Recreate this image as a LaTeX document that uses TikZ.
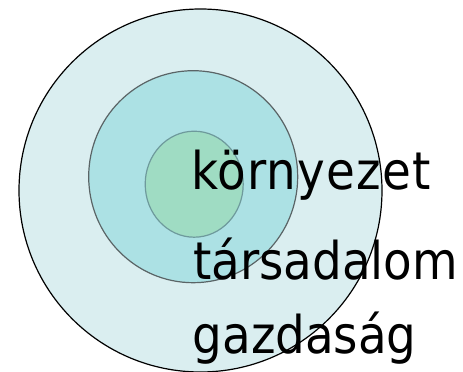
\documentclass[tikz,border=0pt]{standalone}
\usepackage{fontspec}
\setmainfont{DejaVu Sans Condensed}
\definecolor{outerfill}{HTML}{DAEEF0}
\definecolor{midfill}{HTML}{ACE1E4}
\definecolor{innerfill}{HTML}{9FDCC3}
\definecolor{midline}{HTML}{5A6466}
\definecolor{innerline}{HTML}{6E9A9C}
\tikzset{
  lbl/.style={anchor=base west, inner sep=0pt, font=\fontsize{52}{56}\selectfont, text=black},
}
\begin{document}
\begin{tikzpicture}[x=1pt,y=-1pt]
\useasboundingbox (0,0) rectangle (463,372);
\draw[fill=outerfill, draw=black, line width=1.2pt] (200.5,190.5) circle[radius=181.5] node (outer) {};
\draw[fill=midfill, draw=midline, line width=1.2pt] (193.2,176.7) ellipse[x radius=104.5, y radius=106] node (mid) {};
\draw[fill=innerfill, draw=innerline, line width=1.2pt] (194.2,184.2) ellipse[x radius=49, y radius=53] node (inner) {};
\node[lbl] (k) at (191,189.5) {\addfontfeature{LetterSpace=2.3}környezet};
\node[lbl] (t) at (193,279) {társadalom};
\node[lbl] (g) at (192.5,353.5) {gazdaság};
\end{tikzpicture}
\end{document}
